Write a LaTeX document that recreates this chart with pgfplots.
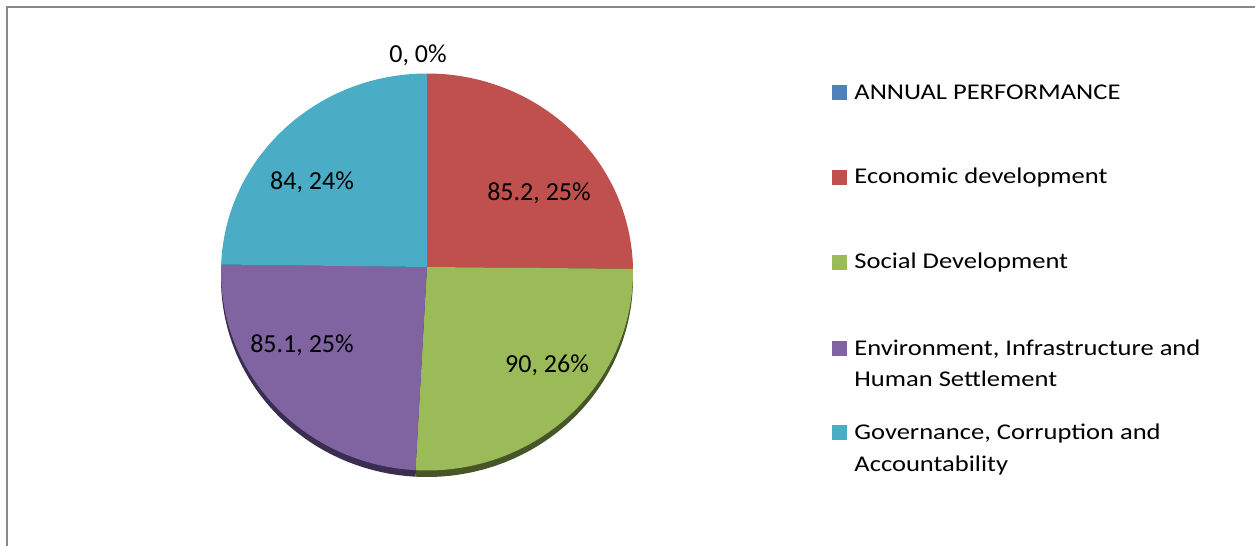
\documentclass[border=0pt]{standalone}
\usepackage{pgfplots}
\pgfplotsset{compat=1.18}
\usepackage{fontspec}
\setmainfont{Carlito}
\newfontfamily\legfont[FakeStretch=1.18]{Carlito}
\usetikzlibrary{calc}

\definecolor{cBlue}{HTML}{4F81BD}
\definecolor{cRed}{HTML}{C0504D}
\definecolor{cGreen}{HTML}{9BBB59}
\definecolor{cPurple}{HTML}{8064A2}
\definecolor{cCyan}{HTML}{4BACC6}
\definecolor{dRed}{HTML}{6E2B29}
\definecolor{dGreen}{HTML}{475529}
\definecolor{dPurple}{HTML}{3A2D50}
\definecolor{dCyan}{HTML}{25606F}
\definecolor{frame}{HTML}{888888}

\tikzset{
  leg/.style={anchor=base west, inner sep=0pt, font=\legfont\fontsize{11.25}{13}\selectfont},
  lab/.style={anchor=base, font=\fontsize{13}{15}\selectfont},
}
\pgfplotsset{legmark/.style={only marks, mark=square*, mark size=3.5pt, color=#1, mark options={draw=#1, fill=#1, line width=0pt}}}

% data: ANNUAL PERFORMANCE, Economic, Social, Environment, Governance
\def\vA{0}\def\vB{85.2}\def\vC{90}\def\vD{85.1}\def\vE{84}
\pgfmathsetmacro\total{\vA+\vB+\vC+\vD+\vE}
\pgfmathsetmacro\aA{90}
\pgfmathsetmacro\aB{\aA-360*(\vA/\total)}
\pgfmathsetmacro\aC{\aB-360*(\vB/\total)}
\pgfmathsetmacro\aD{\aC-360*(\vC/\total)}
\pgfmathsetmacro\aE{\aD-360*(\vD/\total)}
\pgfmathsetmacro\aF{\aE-360*(\vE/\total)}

\newcommand\slice[4]{%
  \fill[#1] ($(axis cs:427,267)+(0,#4)$) --
    ($(axis cs:427,272)+(0,#4)+(#2:103pt and 99.25pt)$)
    arc[start angle=#2, end angle=#3, x radius=103pt, y radius=99.25pt] -- cycle;}

\begin{document}
\begin{tikzpicture}
\begin{axis}[
  scale only axis, width=627.5pt, height=273pt,
  xmin=0, xmax=1255, ymin=0, ymax=546, y dir=reverse,
  hide axis, clip=false,
]
% frame
\draw[frame, line width=1pt] (axis cs:7,546) -- (axis cs:7,7) -- (axis cs:1255,7);
% 3D side
\slice{dRed}{\aB}{\aC}{-3.25pt}
\slice{dGreen}{\aC}{\aD}{-3.25pt}
\slice{dPurple}{\aD}{\aE}{-3.25pt}
\slice{dCyan}{\aE}{\aF}{-3.25pt}
% top faces
\slice{cRed}{\aB}{\aC}{0pt}
\slice{cGreen}{\aC}{\aD}{0pt}
\slice{cPurple}{\aD}{\aE}{0pt}
\slice{cCyan}{\aE}{\aF}{0pt}
% data labels
\node[lab] at (axis cs:418,62) {0, 0\%};
\node[lab] at (axis cs:539,200) {85.2, 25\%};
\node[lab] at (axis cs:547,372) {90, 26\%};
\node[lab] at (axis cs:302,352) {85.1, 25\%};
\node[lab] at (axis cs:312,189) {84, 24\%};
% legend markers
\addplot[legmark=cBlue] coordinates {(839,92.7)};
\addplot[legmark=cRed] coordinates {(839,177.3)};
\addplot[legmark=cGreen] coordinates {(839,262.3)};
\addplot[legmark=cPurple] coordinates {(839,348.4)};
\addplot[legmark=cCyan] coordinates {(839,432.7)};
% legend texts
\node[leg] at (axis cs:854,99.3) {ANNUAL PERFORMANCE};
\node[leg] at (axis cs:854,183.5) {Economic development};
\node[leg] at (axis cs:854,268.3) {Social Development};
\node[leg] at (axis cs:854,355) {Environment, Infrastructure and};
\node[leg] at (axis cs:854,386.7) {Human Settlement};
\node[leg] at (axis cs:854,439.3) {Governance, Corruption and};
\node[leg] at (axis cs:854,471.7) {Accountability};
\end{axis}
\pgfresetboundingbox
\useasboundingbox (current axis.south west) rectangle (current axis.north east);
\end{tikzpicture}
\end{document}
